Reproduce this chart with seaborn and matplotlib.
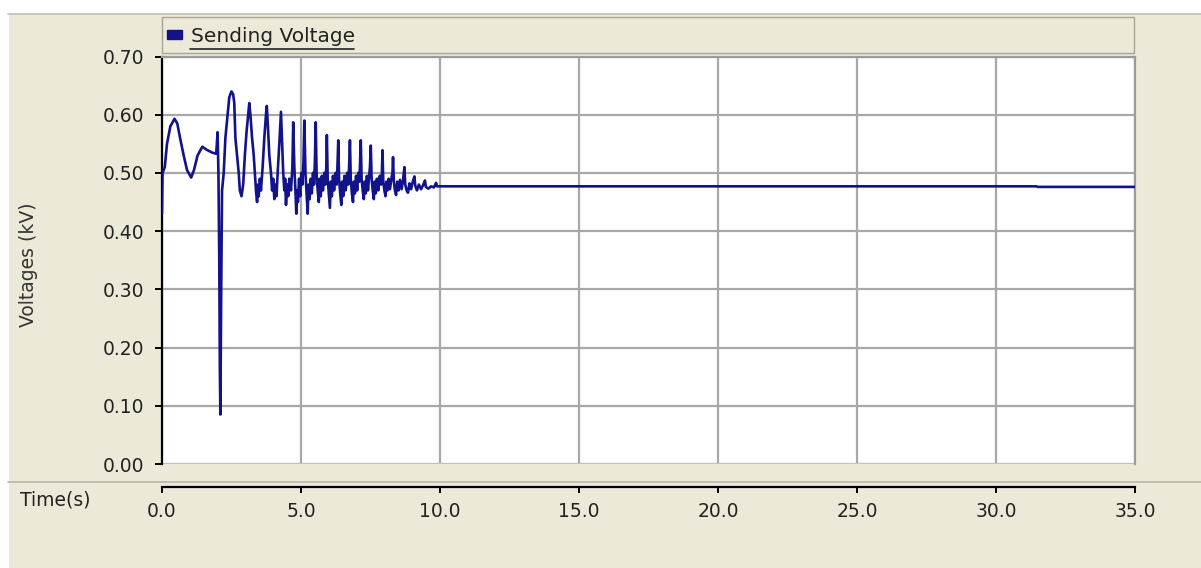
import matplotlib
matplotlib.use("Agg")
import matplotlib.pyplot as plt
from matplotlib.patches import Rectangle, Patch
from matplotlib.lines import Line2D
import seaborn as sns
import pandas as pd

# ---- data ----
time_s = [
    0.00, 0.02, 0.10, 0.18, 0.30, 0.45, 0.55, 0.65, 0.78, 0.90, 1.05, 1.15, 1.28, 1.45, 1.60, 1.80,
    1.95, 2.00, 2.03, 2.06, 2.08, 2.10, 2.13, 2.16, 2.22, 2.28, 2.36, 2.42, 2.50, 2.56, 2.60, 2.64,
    2.70, 2.76, 2.80, 2.86, 2.92, 2.98, 3.04, 3.10, 3.14, 3.18, 3.24, 3.30, 3.34, 3.38, 3.42, 3.45,
    3.48, 3.52, 3.56, 3.62, 3.68, 3.74, 3.77, 3.81, 3.86, 3.92, 3.96, 4.00, 4.04, 4.08, 4.12, 4.16,
    4.22, 4.28, 4.32, 4.36, 4.40, 4.43, 4.46, 4.50, 4.54, 4.58, 4.64, 4.69, 4.72, 4.76, 4.80, 4.83,
    4.86, 4.89, 4.93, 4.97, 5.01, 5.05, 5.09, 5.12, 5.16, 5.20, 5.24, 5.27, 5.31, 5.35, 5.39, 5.43,
    5.47, 5.50, 5.53, 5.56, 5.60, 5.64, 5.67, 5.71, 5.75, 5.79, 5.84, 5.88, 5.91, 5.93, 5.96, 6.00,
    6.04, 6.07, 6.11, 6.15, 6.19, 6.24, 6.28, 6.31, 6.34, 6.37, 6.41, 6.45, 6.48, 6.52, 6.56, 6.61,
    6.66, 6.70, 6.73, 6.76, 6.79, 6.83, 6.87, 6.90, 6.94, 6.98, 7.02, 7.06, 7.10, 7.12, 7.15, 7.18,
    7.22, 7.26, 7.29, 7.33, 7.37, 7.41, 7.45, 7.48, 7.51, 7.54, 7.58, 7.62, 7.65, 7.69, 7.73, 7.78,
    7.83, 7.88, 7.91, 7.93, 7.96, 8.00, 8.04, 8.07, 8.11, 8.15, 8.20, 8.25, 8.29, 8.31, 8.34, 8.38,
    8.42, 8.46, 8.51, 8.56, 8.62, 8.67, 8.72, 8.75, 8.80, 8.85, 8.90, 8.96, 9.02, 9.08, 9.11, 9.17,
    9.24, 9.32, 9.40, 9.46, 9.49, 9.58, 9.68, 9.78, 9.86, 9.89, 31.45, 31.50, 35.00,
]
sending_voltage_kv = [
    0.430, 0.500, 0.510, 0.550, 0.580, 0.593, 0.585, 0.560, 0.530, 0.505, 0.492, 0.505, 0.530, 0.545, 0.540, 0.535,
    0.533, 0.570, 0.500, 0.350, 0.170, 0.085, 0.300, 0.470, 0.500, 0.560, 0.600, 0.630, 0.640, 0.635, 0.620, 0.560,
    0.530, 0.500, 0.470, 0.460, 0.480, 0.530, 0.570, 0.600, 0.620, 0.600, 0.560, 0.530, 0.500, 0.470, 0.450, 0.480,
    0.460, 0.490, 0.470, 0.510, 0.560, 0.600, 0.615, 0.580, 0.530, 0.500, 0.470, 0.490, 0.455, 0.480, 0.460, 0.500,
    0.550, 0.605, 0.550, 0.500, 0.470, 0.490, 0.445, 0.480, 0.460, 0.490, 0.470, 0.510, 0.587, 0.510, 0.470, 0.430,
    0.470, 0.450, 0.490, 0.460, 0.500, 0.480, 0.520, 0.590, 0.500, 0.465, 0.430, 0.480, 0.455, 0.490, 0.465, 0.500,
    0.480, 0.520, 0.587, 0.500, 0.470, 0.450, 0.490, 0.460, 0.495, 0.470, 0.500, 0.480, 0.510, 0.565, 0.490, 0.465,
    0.440, 0.485, 0.460, 0.495, 0.470, 0.500, 0.480, 0.510, 0.556, 0.490, 0.465, 0.445, 0.485, 0.460, 0.495, 0.470,
    0.500, 0.480, 0.510, 0.556, 0.490, 0.465, 0.450, 0.485, 0.465, 0.495, 0.470, 0.500, 0.485, 0.510, 0.556, 0.490,
    0.470, 0.455, 0.485, 0.465, 0.495, 0.470, 0.495, 0.510, 0.547, 0.490, 0.470, 0.455, 0.485, 0.465, 0.490, 0.470,
    0.495, 0.480, 0.500, 0.539, 0.485, 0.470, 0.460, 0.485, 0.470, 0.490, 0.472, 0.490, 0.500, 0.527, 0.485, 0.470,
    0.462, 0.485, 0.470, 0.488, 0.472, 0.488, 0.510, 0.480, 0.470, 0.466, 0.482, 0.472, 0.485, 0.494, 0.478, 0.470,
    0.480, 0.472, 0.480, 0.487, 0.476, 0.473, 0.477, 0.475, 0.483, 0.477, 0.477, 0.476, 0.476,
]
x_ticks = [0, 5, 10, 15, 20, 25, 30, 35]
x_tick_labels = ["0.0", "5.0", "10.0", "15.0", "20.0", "25.0", "30.0", "35.0"]
y_ticks = [0.0, 0.1, 0.2, 0.3, 0.4, 0.5, 0.6, 0.7]
y_tick_labels = ["0.00", "0.10", "0.20", "0.30", "0.40", "0.50", "0.60", "0.70"]
series_name = "Sending Voltage"

df = pd.DataFrame({"Time(s)": time_s, "Voltage": sending_voltage_kv})

# ---- style ----
sns.set_style("white")
plt.rcParams["font.family"] = ["DejaVu Sans"]

W, H = 1201, 568
BEIGE = "#ECE9D8"
NAVY = "#12128a"
GRID = "#a8a8a8"
FS = 13.5

fig = plt.figure(figsize=(W / 100, H / 100), dpi=100, facecolor="white")

def fx(px):
    return px / W

def fy(py):
    return 1 - py / H

# panel background (drawn beneath the axes)
fig.patches.append(Rectangle((fx(9), 0), 1 - fx(9), fy(14), transform=fig.transFigure,
                             facecolor=BEIGE, edgecolor="none", zorder=-3))
fig.lines.append(Line2D([fx(8), 1], [fy(13.5), fy(13.5)], transform=fig.transFigure,
                        color="#c4c1b4", lw=1.2, zorder=-2))
fig.lines.append(Line2D([fx(8), 1], [fy(482), fy(482)], transform=fig.transFigure,
                        color="#b9b6a8", lw=1.2, zorder=-2))
# legend bar
fig.patches.append(Rectangle((fx(162), fy(53)), fx(1134) - fx(162), fy(17) - fy(53),
                             transform=fig.transFigure, facecolor=BEIGE,
                             edgecolor="#a6a397", lw=1.0, zorder=-2))

# axes
left, right, top, bottom = 162, 1135, 56.5, 464
ax = fig.add_axes([fx(left), fy(bottom), fx(right) - fx(left), fy(top) - fy(bottom)])
ax.set_facecolor("white")

sns.lineplot(data=df, x="Time(s)", y="Voltage", ax=ax, color=NAVY, lw=1.9,
             estimator=None, sort=False, legend=False, zorder=3)

ax.set_xlim(0, 35)
ax.set_ylim(0, 0.70)
ax.set_xticks(x_ticks)
ax.set_xticklabels(x_tick_labels)
ax.set_yticks(y_ticks)
ax.set_yticklabels(y_tick_labels)
ax.grid(True, color=GRID, lw=1.6, zorder=1)
ax.set_axisbelow(True)

for s in ["top", "right"]:
    ax.spines[s].set_color("#9c9c9c")
    ax.spines[s].set_linewidth(1.6)
ax.spines["left"].set_color("black")
ax.spines["left"].set_linewidth(1.6)
ax.spines["bottom"].set_position(("outward", 23 * 0.72))
ax.spines["bottom"].set_color("black")
ax.spines["bottom"].set_linewidth(1.6)
ax.axhline(0, color="#c8c8c8", lw=1.2, zorder=2)

ax.tick_params(axis="y", direction="out", length=5, width=1.4, color="black",
               labelsize=FS, pad=8, left=True)
ax.tick_params(axis="x", direction="out", length=4.5, width=1.4, color="black",
               labelsize=FS, pad=6.5, bottom=True)
for lab in ax.get_xticklabels() + ax.get_yticklabels():
    lab.set_color("#222222")

ax.set_ylabel("Voltages (kV)", fontsize=FS, color="#333333", va="center")
ax.yaxis.set_label_coords(fx(28), fy(265), transform=fig.transFigure)
ax.set_xlabel("Time(s)", fontsize=FS, color="#222222", va="center", ha="center")
ax.xaxis.set_label_coords(fx(55), fy(500), transform=fig.transFigure)

# legend
handle = Patch(facecolor=NAVY, edgecolor=NAVY, label=series_name)
leg = ax.legend(handles=[handle], loc="center left",
                bbox_to_anchor=(fx(167), fy(36)), bbox_transform=fig.transFigure,
                frameon=False, fontsize=14.5, handlelength=0.75, handleheight=0.35,
                handletextpad=0.42, borderpad=0, borderaxespad=0)
for t in leg.get_texts():
    t.set_color("#222222")
fig.lines.append(Line2D([fx(190), fx(354)], [fy(49), fy(49)], transform=fig.transFigure,
                        color="#222222", lw=1.2, zorder=5))

fig.savefig("out.png", dpi=100, facecolor=fig.get_facecolor())
